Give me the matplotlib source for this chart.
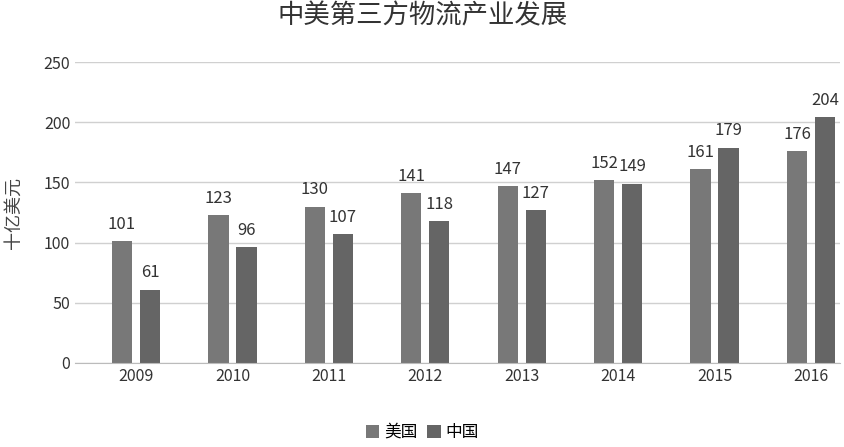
import numpy as np
import matplotlib.pyplot as plt

plt.rcParams['font.family'] = ['Noto Sans CJK SC', 'DejaVu Sans']

years = ['2009', '2010', '2011', '2012', '2013', '2014', '2015', '2016']
us = [101, 123, 130, 141, 147, 152, 161, 176]
china = [61, 96, 107, 118, 127, 149, 179, 204]

fig = plt.figure(figsize=(8.45, 4.47), dpi=100)
ax = fig.add_axes([0.089, 0.188, 0.905, 0.673])

x = np.arange(len(years))
w = 0.21
b1 = ax.bar(x - 0.145, us, w, color='#787878', label='美国')
b2 = ax.bar(x + 0.145, china, w, color='#656565', label='中国')
for bars in (b1, b2):
    for r in bars:
        ax.text(r.get_x() + r.get_width() / 2, r.get_height() + 7, str(int(r.get_height())),
                ha='center', va='bottom', fontsize=12, color='#333333')

ax.set_ylim(0, 250)
ax.set_yticks(range(0, 251, 50))
ax.set_xlim(-0.63, 7.3)
ax.set_xticks(x)
ax.set_xticklabels(years)
ax.tick_params(length=0, labelsize=11.5, colors='#333333')
ax.yaxis.grid(True, color='#d0d0d0', lw=1)
ax.set_axisbelow(True)
for s in ('top', 'right', 'left'):
    ax.spines[s].set_visible(False)
ax.spines['bottom'].set_color('#bbbbbb')
ax.set_ylabel('十亿美元', fontsize=13, color='#444444')
ax.yaxis.set_label_coords(-0.068, 0.5)

fig.suptitle('中美第三方物流产业发展', fontsize=19, color='#333333', y=0.995)
fig.legend(loc='lower center', bbox_to_anchor=(0.5, -0.02), ncol=2, frameon=False,
           fontsize=12, handlelength=0.8, handleheight=0.8, columnspacing=0.6, handletextpad=0.3)

fig.savefig('out.png')
